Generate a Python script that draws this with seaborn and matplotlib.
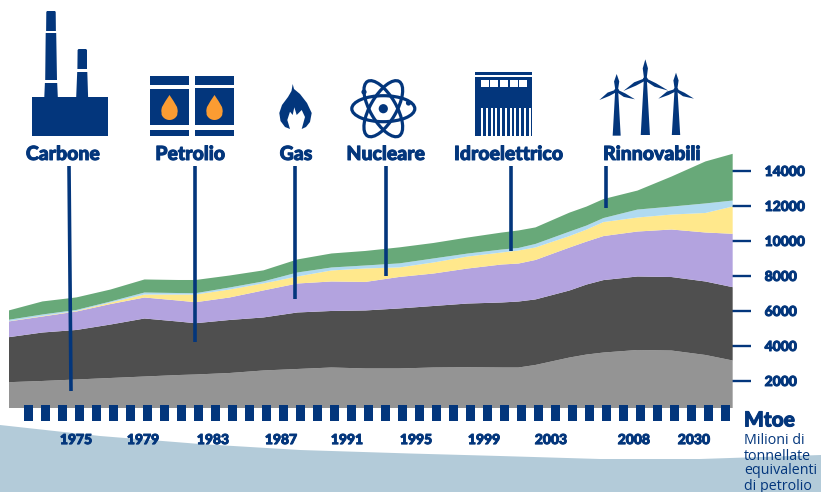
import numpy as np
import matplotlib
matplotlib.use("Agg")
import matplotlib.pyplot as plt
import matplotlib.patheffects as pe_mod
from matplotlib.patches import Polygon, Rectangle, Ellipse, Circle
import seaborn as sns

years = [1971, 1973, 1975, 1977, 1979, 1981, 1982, 1984, 1986, 1988, 1990, 1992, 1994,
         1996, 1998, 2000, 2001, 2002, 2004, 2005, 2006, 2008, 2010, 2012, 2013.6]
carbone_base = [1960, 2030, 2115, 2200, 2285, 2370, 2400, 2485, 2630, 2715, 2800, 2745, 2745,
                2800, 2815, 2800, 2800, 2945, 3370, 3540, 3655, 3800, 3770, 3515, 3200]
petrolio = [2570, 2770, 2830, 3055, 3315, 3055, 2930, 3030, 3030, 3230, 3230, 3315, 3430,
            3515, 3640, 3715, 3770, 3745, 3830, 4000, 4140, 4200, 4200, 4200, 4190]
gas = [900, 915, 1055, 1170, 1200, 1200, 1200, 1285, 1545, 1655, 1685, 1630, 1800,
       1855, 2000, 2170, 2170, 2255, 2455, 2455, 2515, 2570, 2715, 2800, 3050]
nucleare = [15, 30, 30, 85, 170, 345, 440, 455, 400, 400, 630, 770, 545,
            630, 685, 685, 745, 715, 655, 685, 800, 800, 855, 1115, 1560]
idro = [80, 85, 60, 60, 115, 85, 75, 115, 115, 230, 170, 170, 230,
        230, 170, 170, 145, 200, 255, 230, 230, 455, 455, 545, 340]
rinnovabili = [530, 745, 715, 685, 745, 745, 755, 685, 630, 745, 800, 830, 915,
               885, 915, 970, 1000, 945, 1085, 1085, 1085, 1085, 1715, 2400, 2670]
series_colors = ["#949494", "#4F4F4F", "#B3A3DF", "#FFE88C", "#B0DAF0", "#68A979"]

year_ticks = [1975, 1978.94, 1983.06, 1987.06, 1990.94, 1995, 1999, 2002.94, 2007.82, 2011.35]
year_labels = ["1975", "1979", "1983", "1987", "1991", "1995", "1999", "2003", "2008", "2030"]
value_ticks = [2000, 4000, 6000, 8000, 10000, 12000, 14000]

source_names = ["Carbone", "Petrolio", "Gas", "Nucleare", "Idroelettrico", "Rinnovabili"]
name_x = [63, 190.5, 296, 386, 509, 652]
pointer_x = [70, 194.5, 295, 385.5, 510.7, 605.7]
pointer_end = [391, 342, 299, 276, 251, 208]

NAVY = "#03367C"
ORANGE = "#FB9C32"
PALE = "#B3CBD9"
W, H = 821, 492

sns.set_theme(style="white")
plt.rcParams["font.family"] = ["Lato", "DejaVu Sans"]
HEAVY = [pe_mod.withStroke(linewidth=0.7, foreground=NAVY)]

fig = plt.figure(figsize=(W / 100, H / 100), dpi=100, facecolor="white")

# background wave and pixel-space overlay
bg = fig.add_axes([0, 0, 1, 1], zorder=0)
bg.set_xlim(0, W); bg.set_ylim(H, 0); bg.axis("off")
wave = [(0, 425), (100, 436), (200, 444), (300, 450), (410, 453.5), (500, 456),
        (600, 459), (700, 459), (821, 455), (821, 492), (0, 492)]
bg.add_patch(Polygon(wave, closed=True, fc=PALE, ec="none"))

ax = fig.add_axes([9 / W, (H - 407) / H, 723 / W, 267 / H], zorder=1)
ax.patch.set_alpha(0)
ax.stackplot(years, carbone_base, petrolio, gas, nucleare, idro, rinnovabili,
             colors=series_colors, linewidth=0)
ax.set_xlim(1971.06, 2013.59)
ax.set_ylim(514, 15771)
ax.yaxis.tick_right()
ax.set_yticks(value_ticks)
ax.set_yticklabels([str(v) for v in value_ticks], fontsize=10, fontweight="black", color=NAVY,
                   path_effects=HEAVY)
ax.tick_params(axis="y", length=13.5, width=1.7, color=NAVY, pad=10, right=True, left=False)
ax.set_xticks(year_ticks)
ax.set_xticklabels(year_labels, fontsize=10, fontweight="black", color=NAVY, path_effects=HEAVY)
ax.tick_params(axis="x", length=0, pad=19.5)
sns.despine(ax=ax, left=True, bottom=True, right=True, top=True)
ax.grid(False)

ov = fig.add_axes([0, 0, 1, 1], zorder=2)
ov.set_xlim(0, W); ov.set_ylim(H, 0); ov.axis("off"); ov.patch.set_alpha(0)


def rect(x0, y0, x1, y1, c=NAVY):
    ov.add_patch(Rectangle((x0, y0), x1 - x0, y1 - y0, fc=c, ec="none"))


def poly(pts, c=NAVY):
    ov.add_patch(Polygon(pts, closed=True, fc=c, ec="none"))


# dashed ribbon under the chart
for k in range(42):
    rect(24 + 17 * k, 405, 32.6 + 17 * k, 421)

# source labels and pointers
for name, nx, px, pe in zip(source_names, name_x, pointer_x, pointer_end):
    ov.text(nx, 154.5, name, ha="center", va="center", fontsize=14,
            fontweight="black", color=NAVY, path_effects=HEAVY)
    ov.plot([px - (1 if name == "Carbone" else 0), px + (1 if name == "Carbone" else 0)],
            [166, pe], color=NAVY, lw=2.6, solid_capstyle="butt")

# factory
rect(32, 97, 108, 136)
poly([(46.3, 12), (47, 11), (55, 11), (55.7, 12), (55.9, 31), (46.1, 31)])
poly([(45.7, 33), (56.2, 33), (57, 80), (45.2, 80)])
poly([(44.9, 83), (57.2, 83), (57.8, 97), (44.3, 97)])
poly([(77.6, 50), (78.5, 49), (86, 49), (87, 50), (87, 69), (77.4, 69)])
poly([(77.2, 72), (87.3, 72), (88.1, 97), (76.2, 97)])

# barrels
for x0, x1, body_top in [(150, 189, 89), (195, 234, 88)]:
    rect(x0, 76, x1, 84.7)
    rect(x0, body_top, x1, 125)
    rect(x0, 130, x1, 136)
    cx = (x0 + x1) / 2
    t = np.linspace(0, 2 * np.pi, 60)
    rx = cx + 8.5 * np.cos(t)
    ry = 111.5 + 8.5 * np.sin(t)
    mask = ry > 108
    drop = sorted(zip(rx[mask], ry[mask]), key=lambda p: -p[0])
    poly([(cx, 95), (cx + 4, 101), (cx + 7.5, 107)] + drop + [(cx - 7.5, 107), (cx - 4, 101)], ORANGE)

# flame
poly([(292.7, 84), (294, 89), (300, 94), (307, 103), (311.7, 113), (310, 122), (306, 127),
      (301.7, 129), (305, 117), (301.7, 110), (296.7, 115), (294.3, 107.3), (292.7, 115),
      (290, 111.7), (287.3, 120), (290, 129),
      (285, 127), (280.5, 121), (279.3, 113), (282, 105), (288, 97), (291.5, 91)])

# atom
for ang in (0, 60, -60):
    ov.add_patch(Ellipse((383.3, 108.7), 63, 26, angle=ang, fc="none", ec=NAVY, lw=2.3))
ov.add_patch(Circle((383.3, 108.7), 4.6, fc=NAVY, ec="none"))
ov.add_patch(Circle((364, 92), 2.6, fc=NAVY, ec="none"))
ov.add_patch(Circle((408.5, 103), 2.6, fc=NAVY, ec="none"))

# hydroelectric plant
rect(475, 72, 532, 75.3)
rect(475, 77, 532, 136)
for zx0, zx1 in [(213, 237), (240, 264), (270, 294), (300, 324), (327, 351)]:
    rect(410 + zx0 / 3, 80, 410 + zx1 / 3, 87, "white")
for k in range(11):
    x0 = 481.2 + k * 4.75
    rect(x0, 108, x0 + 1.9, 136, "white")


# wind turbines
def turbine(cx, cy, base_y, half, top_y, left, right):
    poly([(cx - 1.5, cy), (cx + 1.5, cy), (cx + half, base_y), (cx - half, base_y)])
    ov.add_patch(Circle((cx, cy), 2.4, fc=NAVY, ec="none"))
    poly([(cx - 1.2, cy), (cx - 2.6, cy - (cy - top_y) * .55), (cx, top_y),
          (cx + 2.6, cy - (cy - top_y) * .55), (cx + 1.2, cy)])
    for tx, ty in (left, right):
        dx, dy = tx - cx, ty - cy
        n = np.hypot(dx, dy)
        nx_, ny_ = -dy / n, dx / n
        mx, my = cx + dx * .45, cy + dy * .45
        poly([(cx + nx_ * 1.2, cy + ny_ * 1.2), (mx + nx_ * 2.6, my + ny_ * 2.6), (tx, ty),
              (mx - nx_ * 1.2, my - ny_ * 1.2), (cx - nx_ * 1.2, cy - ny_ * 1.2)])


turbine(410 + 620 / 3, 272 / 3, 407 / 3, 4, 222 / 3, (410 + 568 / 3, 300 / 3), (410 + 675 / 3, 298 / 3))
turbine(410 + 706 / 3, 238 / 3, 405 / 3, 4.6, 178 / 3, (410 + 640 / 3, 273 / 3), (410 + 775 / 3, 272 / 3))
turbine(410 + 798 / 3, 270 / 3, 405 / 3, 4.2, 218 / 3, (410 + 745 / 3, 296 / 3), (410 + 852 / 3, 296 / 3))

# unit note
ov.text(744, 420, "Mtoe", ha="left", va="center", fontsize=15, fontweight="black", color=NAVY,
        path_effects=HEAVY)
for line, y in zip(["Milioni di", "tonnellate", "equivalenti", "di petrolio"], [440, 456, 471, 486]):
    ov.text(744, y, line, ha="left", va="center", fontsize=10.3, color=NAVY, family="Open Sans")

# tail of the title, cut by the top edge
ov.text(457, -8, "g", ha="center", va="baseline", fontsize=20, fontweight="black",
        color=NAVY, clip_on=False)

fig.savefig("out.png", dpi=100)
